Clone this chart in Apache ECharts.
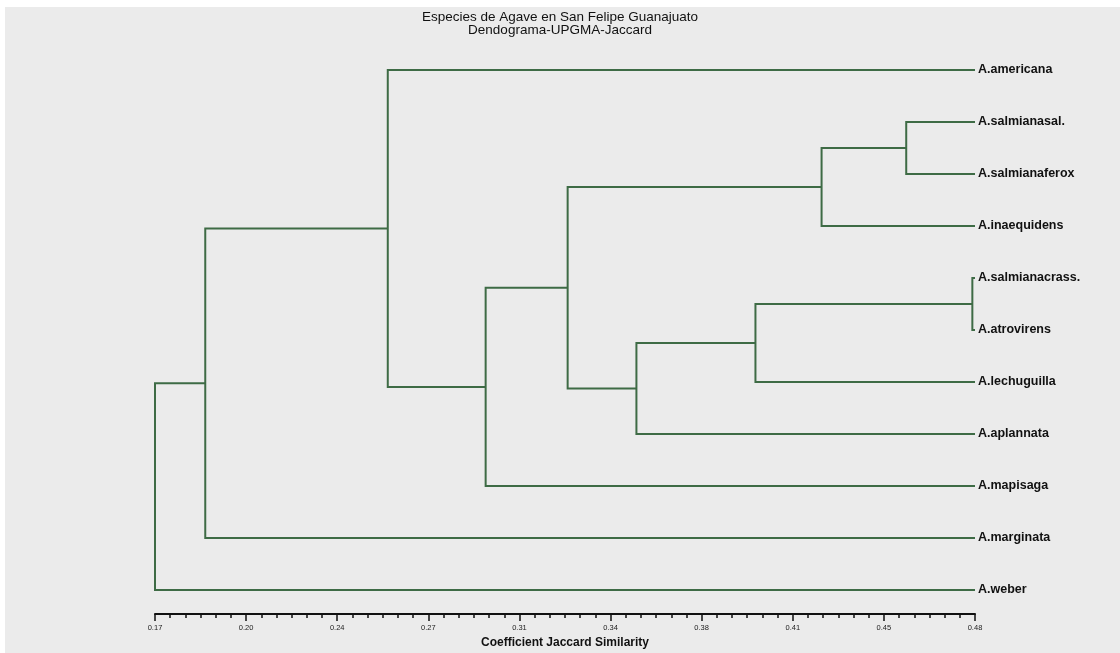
<!DOCTYPE html>
<html>
<head>
<meta charset="utf-8">
<script src="https://cdn.jsdelivr.net/npm/echarts@6/dist/echarts.min.js"></script>
<style>
html,body{margin:0;padding:0;background:#ffffff;}
#chart{width:1120px;height:653px;}
</style>
</head>
<body>
<div id="chart"></div>
<script>
// Leaves (top to bottom)
const leaves = ['A.americana','A.salmianasal.','A.salmianaferox','A.inaequidens','A.salmianacrass.','A.atrovirens','A.lechuguilla','A.aplannata','A.mapisaga','A.marginata','A.weber'];
// Merges: [child A, child B, similarity]; leaf ids 0..10, new clusters numbered from 11
const merges = [
  [1, 2, 0.454],
  [11, 3, 0.422],
  [4, 5, 0.479],
  [13, 6, 0.397],
  [14, 7, 0.352],
  [12, 15, 0.326],
  [16, 8, 0.295],
  [0, 17, 0.258],
  [18, 9, 0.189],
  [19, 10, 0.170]
];
const leafSimilarity = 0.48;
const axisMin = 0.17, axisMax = 0.48;
const tickLabels = ['0.17','0.20','0.24','0.27','0.31','0.34','0.38','0.41','0.45','0.48'];
const minorPerMajor = 6;

const nMaj = tickLabels.length - 1;
const majorVals = tickLabels.map((t, i) => axisMin + i * (axisMax - axisMin) / nMaj);
const minorVals = [];
for (let i = 0; i <= nMaj * minorPerMajor; i++) minorVals.push(axisMin + i * (axisMax - axisMin) / (nMaj * minorPerMajor));

// node positions
const nodeX = leaves.map(() => leafSimilarity);
const nodeY = leaves.map((_, i) => i);
const segs = [];
merges.forEach(m => {
  const [a, b, h] = m;
  segs.push({coords: [[nodeX[a], nodeY[a]], [h, nodeY[a]], [h, nodeY[b]], [nodeX[b], nodeY[b]]]});
  nodeX.push(h);
  nodeY.push((nodeY[a] + nodeY[b]) / 2);
});

const chart = echarts.init(document.getElementById('chart'));
chart.setOption({
  backgroundColor: '#ffffff',
  animation: false,
  graphic: [{type: 'rect', shape: {x: 5, y: 7, width: 1115, height: 646}, style: {fill: '#ebebeb'}, z: -10, silent: true}],
  title: {
    text: 'Especies de Agave en San Felipe Guanajuato',
    subtext: 'Dendograma-UPGMA-Jaccard',
    left: 'center', top: 5, itemGap: -1,
    textStyle: {fontFamily: 'Liberation Sans', fontSize: 13.5, fontWeight: 'normal', color: '#111'},
    subtextStyle: {fontFamily: 'Liberation Sans', fontSize: 13.5, color: '#111'}
  },
  grid: {left: 155, right: 145, top: 70, bottom: 39, outerBoundsMode: 'none', containLabel: false},
  xAxis: [{
    type: 'value', min: axisMin, max: axisMax, position: 'bottom',
    name: 'Coefficient Jaccard Similarity', nameLocation: 'middle', nameGap: 21,
    nameTextStyle: {fontFamily: 'Liberation Sans', fontSize: 12, fontWeight: 'bold', color: '#111'},
    axisLine: {show: true, onZero: false, lineStyle: {color: '#111', width: 2}},
    axisTick: {show: true, length: 7, customValues: majorVals, lineStyle: {color: '#111', width: 1.5}},
    axisLabel: {customValues: majorVals, formatter: (v) => {
      const i = majorVals.findIndex(x => Math.abs(x - v) < 1e-6); return i >= 0 ? tickLabels[i] : ''; },
      fontFamily: 'Liberation Sans', fontSize: 7.5, color: '#222', margin: 10},
    splitLine: {show: false}
  }, {
    type: 'value', min: axisMin, max: axisMax, position: 'bottom',
    axisLine: {show: false, onZero: false},
    axisTick: {show: true, length: 4, customValues: minorVals, lineStyle: {color: '#111', width: 1.5}},
    axisLabel: {show: false},
    splitLine: {show: false}
  }],
  yAxis: {
    type: 'value', min: 0, max: 10.4615, inverse: true, position: 'right',
    axisLine: {show: false}, axisTick: {show: false}, splitLine: {show: false},
    axisLabel: {customValues: leaves.map((_, i) => i), formatter: (v) => leaves[Math.round(v)] || '',
      fontFamily: 'Liberation Sans', fontSize: 12.5, fontWeight: 'bold', color: '#111', margin: 3}
  },
  series: [{
    type: 'lines', coordinateSystem: 'cartesian2d', polyline: true,
    lineStyle: {color: '#3e6b45', width: 2, opacity: 1},
    data: segs, silent: true
  }]
});
</script>
</body>
</html>
